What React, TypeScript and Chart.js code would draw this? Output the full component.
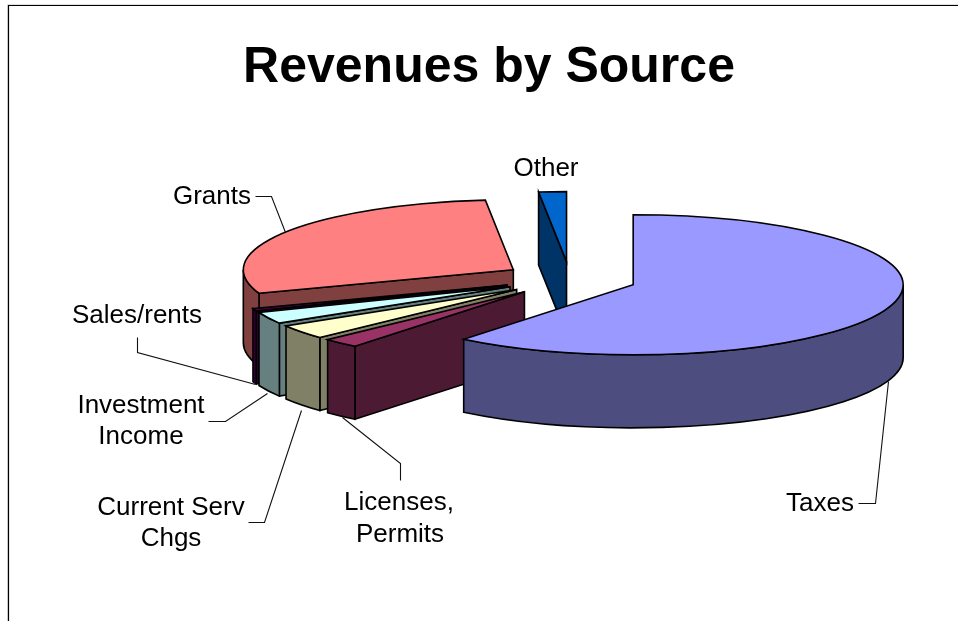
import React, { useEffect, useRef } from "react";
import { Chart, registerables } from "chart.js";

Chart.register(...registerables);

// Data
const categories = ["Taxes", "Licenses, Permits", "Current Serv Chgs", "Investment Income", "Sales/rents", "Grants", "Other"];
const shares = [60.8, 2.2, 3.3, 2.7, 0.55, 28.8, 1.65];
const topColors = ["#9999FF", "#993366", "#FFFFCC", "#CCFFFF", "#660066", "#FF8080", "#0066CC"];
const wallColors = ["#4D4D80", "#4D1A33", "#808066", "#668080", "#330033", "#804040", "#003366"];
const chartTitle = "Revenues by Source";

// Layout of the 3D projection
const CX = 570, CY = 279, RX = 270, RY = 70, DEPTH = 73, EXPLODE = 67;

type Callout = { lines: [string, number, number][]; path: [number, number][] };
const callouts: Callout[] = [
  { lines: [["Taxes", 820, 504]], path: [[858, 503], [875, 503], [888, 381]] },
  { lines: [["Licenses,", 399, 503], ["Permits", 400, 535]], path: [[342, 417], [400, 463], [400, 480]] },
  { lines: [["Current Serv", 171, 508], ["Chgs", 171, 539]], path: [[248, 522], [264, 522], [301, 410]] },
  { lines: [["Investment", 141, 406], ["Income", 141, 437]], path: [[208, 421], [225, 421], [267, 393]] },
  { lines: [["Sales/rents", 137, 316]], path: [[137, 337], [137, 352], [255, 384]] },
  { lines: [["Grants", 212, 197]], path: [[255, 196], [271, 196], [285, 232]] },
  { lines: [["Other", 546, 169]], path: [] },
];

const pie3d = {
  id: "pie3d",
  beforeDatasetsDraw(chart: any) {
    const ctx: CanvasRenderingContext2D = chart.ctx;
    const arcs: any[] = chart.getDatasetMeta(0).data;
    ctx.save();
    ctx.lineWidth = 1.6;
    ctx.strokeStyle = "#000";
    ctx.lineJoin = "miter";

    const paint = (fill: string) => {
      ctx.fillStyle = fill;
      ctx.fill();
      ctx.stroke();
    };

    for (let i = arcs.length - 1; i >= 0; i--) {
      const { startAngle: a, endAngle: b } = arcs[i];
      const mid = (a + b) / 2;
      const ax = CX + Math.cos(mid) * EXPLODE;
      const ay = CY + (Math.sin(mid) * EXPLODE * RY) / RX;

      const cutFace = (angle: number) => {
        const px = ax + Math.cos(angle) * RX;
        const py = ay + Math.sin(angle) * RY;
        ctx.beginPath();
        ctx.moveTo(ax, ay);
        ctx.lineTo(px, py);
        ctx.lineTo(px, py + DEPTH);
        ctx.lineTo(ax, ay + DEPTH);
        ctx.closePath();
        paint(wallColors[i]);
      };
      if (Math.sin(a - Math.PI / 2) > 1e-6) cutFace(a);
      if (Math.sin(b + Math.PI / 2) > 1e-6) cutFace(b);

      const from = Math.max(a, 0);
      const to = Math.min(b, Math.PI);
      if (to > from) {
        ctx.beginPath();
        ctx.ellipse(ax, ay, RX, RY, 0, from, to);
        ctx.ellipse(ax, ay + DEPTH, RX, RY, 0, to, from, true);
        ctx.closePath();
        paint(wallColors[i]);
      }

      ctx.beginPath();
      ctx.moveTo(ax, ay);
      ctx.ellipse(ax, ay, RX, RY, 0, a, b);
      ctx.closePath();
      paint(topColors[i]);
    }
    ctx.restore();
    return false;
  },
  afterDraw(chart: any) {
    const ctx: CanvasRenderingContext2D = chart.ctx;
    ctx.save();
    // frame
    ctx.strokeStyle = "#e0e0e0";
    ctx.lineWidth = 1;
    ctx.beginPath();
    ctx.moveTo(7.5, 621);
    ctx.lineTo(7.5, 4.5);
    ctx.lineTo(958, 4.5);
    ctx.stroke();
    ctx.strokeStyle = "#000";
    ctx.lineWidth = 1.2;
    ctx.beginPath();
    ctx.moveTo(8.5, 621);
    ctx.lineTo(8.5, 5.5);
    ctx.lineTo(958, 5.5);
    ctx.stroke();
    // callouts
    ctx.strokeStyle = "#111";
    ctx.lineWidth = 1.1;
    ctx.fillStyle = "#000";
    ctx.font = '26px "Liberation Sans"';
    ctx.textAlign = "center";
    ctx.textBaseline = "middle";
    for (const c of callouts) {
      if (c.path.length) {
        ctx.beginPath();
        c.path.forEach(([x, y], k) => (k ? ctx.lineTo(x + 0.5, y + 0.5) : ctx.moveTo(x + 0.5, y + 0.5)));
        ctx.stroke();
      }
      for (const [t, x, y] of c.lines) ctx.fillText(t, x, y);
    }
    ctx.restore();
  },
};

export default function App() {
  const ref = useRef<HTMLCanvasElement>(null);
  useEffect(() => {
    const chart = new Chart(ref.current!, {
      type: "pie",
      data: {
        labels: categories,
        datasets: [{ data: shares, backgroundColor: topColors, borderColor: "#000" }],
      },
      options: {
        animation: false,
        responsive: false,
        layout: { padding: { left: 20 } },
        plugins: {
          legend: { display: false },
          tooltip: { enabled: false },
          title: {
            display: true,
            text: chartTitle,
            color: "#000",
            font: { family: '"Liberation Sans"', size: 50, weight: "bold" },
            padding: { top: 38, bottom: 10 },
          },
        },
      },
      plugins: [pie3d],
    } as any);
    return () => chart.destroy();
  }, []);
  return (
    <canvas
      ref={ref}
      width={958}
      height={621}
      style={{ position: "fixed", left: 0, top: 0, width: 958, height: 621, background: "#fff" }}
    />
  );
}
